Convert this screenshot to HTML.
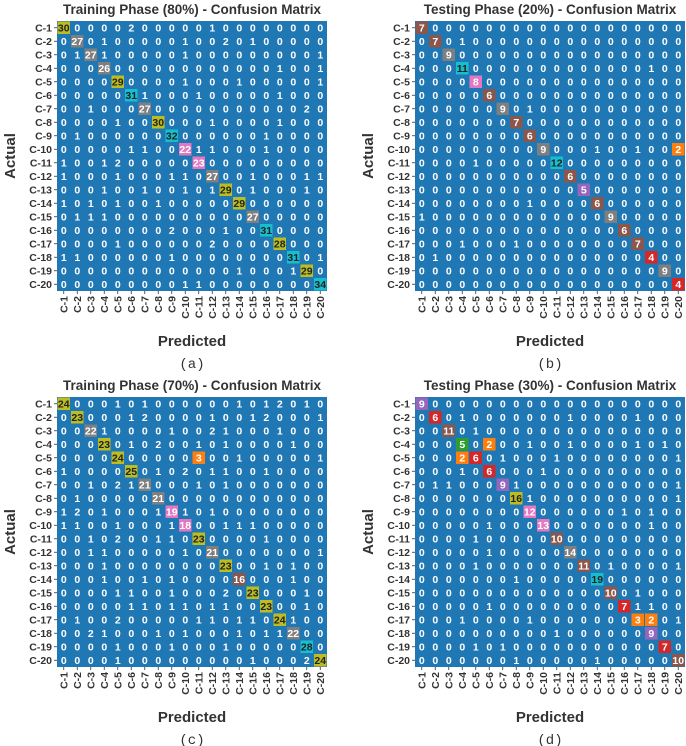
<!DOCTYPE html>
<html><head><meta charset="utf-8"><style>
html,body{margin:0;padding:0;background:#fff;}
svg{display:block;font-family:"Liberation Sans",Arial,sans-serif;}
</style></head><body>
<svg id="fig" width="686" height="746" viewBox="0 0 686 746" xmlns="http://www.w3.org/2000/svg"></svg>
<script>
const classLabels = ["C-1","C-2","C-3","C-4","C-5","C-6","C-7","C-8","C-9","C-10","C-11","C-12","C-13","C-14","C-15","C-16","C-17","C-18","C-19","C-20"];
const matrixA = [
[30,0,0,0,0,2,0,0,0,0,0,1,0,0,0,0,0,0,0,0],
[0,27,0,1,0,0,0,0,0,1,0,0,2,0,1,0,0,0,0,0],
[0,1,27,1,0,0,0,0,0,1,0,0,0,0,0,0,0,0,0,1],
[0,0,0,26,0,0,0,0,0,0,0,0,0,0,0,0,1,0,0,1],
[0,0,0,0,29,0,0,0,0,1,0,0,0,1,0,0,0,0,0,1],
[0,0,0,0,0,31,1,0,0,0,1,0,0,0,0,0,1,0,0,0],
[0,0,1,0,0,0,27,0,0,0,0,0,0,0,0,0,0,0,2,0],
[0,0,0,0,1,0,0,30,0,0,0,1,0,0,0,0,1,0,0,0],
[0,1,0,0,0,0,0,0,32,0,0,0,0,0,0,1,0,0,0,0],
[0,0,0,0,0,1,1,0,0,22,1,1,0,0,0,1,0,0,0,0],
[1,0,0,1,2,0,0,0,0,0,23,0,0,0,0,0,0,0,0,0],
[1,0,0,0,1,0,0,0,1,1,0,27,0,0,1,0,0,0,1,1],
[0,0,0,1,0,0,1,0,0,1,0,1,29,0,1,0,0,0,1,0],
[1,0,1,0,1,0,0,1,0,0,0,0,0,29,0,0,0,0,0,0],
[0,1,1,1,0,0,0,0,0,0,0,0,0,0,27,0,0,0,0,0],
[0,0,0,0,0,0,0,0,2,0,0,0,1,0,0,31,0,0,0,0],
[0,0,0,0,1,0,0,0,0,0,0,2,0,0,0,0,28,0,0,0],
[1,1,0,0,0,0,0,0,1,0,0,0,0,0,0,0,0,31,0,1],
[0,0,0,0,0,0,0,0,0,0,0,0,0,1,0,0,0,1,29,0],
[0,0,0,0,0,0,0,0,0,1,1,0,0,0,0,0,0,0,0,34]];
const matrixB = [
[7,0,0,0,0,0,0,0,0,0,0,0,0,0,0,0,0,0,0,0],
[0,7,0,1,0,0,0,0,0,0,0,0,0,0,0,0,0,0,0,0],
[0,0,9,0,0,0,0,0,0,0,0,0,0,0,0,0,0,0,0,0],
[0,0,0,11,0,0,0,0,0,0,0,0,0,0,0,0,0,1,0,0],
[0,0,0,0,8,0,0,0,0,0,0,0,0,0,0,0,0,0,0,0],
[0,0,0,0,0,6,0,0,0,0,0,0,0,0,0,0,0,0,0,0],
[0,0,0,0,0,0,9,0,1,0,0,0,0,0,0,0,0,0,0,0],
[0,0,0,0,0,0,0,7,0,0,0,0,0,0,0,0,0,0,0,0],
[0,0,0,0,0,0,0,0,6,0,0,0,0,0,0,0,0,0,0,0],
[0,0,0,0,0,0,0,0,0,9,0,0,0,1,0,0,1,0,0,2],
[0,0,0,0,1,0,0,0,0,0,12,0,0,0,0,0,0,0,0,0],
[0,0,0,0,0,0,0,0,0,0,0,6,0,0,0,0,0,0,0,0],
[0,0,0,0,0,0,0,0,0,0,0,0,5,0,0,0,0,0,0,0],
[0,0,0,0,0,0,0,0,1,0,0,0,0,6,0,0,0,0,0,0],
[1,0,0,0,0,0,0,0,0,0,0,0,0,0,9,0,0,0,0,0],
[0,0,0,0,0,0,0,0,0,0,0,0,0,0,0,6,0,0,0,0],
[0,0,0,1,0,0,0,1,0,0,0,0,0,0,0,0,7,0,0,0],
[0,1,0,0,0,0,0,0,0,0,0,0,0,0,0,0,0,4,0,0],
[0,0,0,0,0,0,0,0,0,0,0,0,0,0,0,0,0,0,9,0],
[0,0,0,0,0,0,0,0,0,0,0,0,0,0,0,0,0,0,0,4]];
const matrixC = [
[24,0,0,0,1,0,1,0,0,0,0,0,0,1,0,1,2,0,1,0],
[0,23,0,0,0,1,2,0,0,0,0,1,0,0,1,2,0,0,0,1],
[0,0,22,1,0,0,0,0,1,0,0,2,1,0,0,0,1,0,0,0],
[0,0,0,23,0,1,0,2,0,0,1,0,1,0,0,0,0,1,0,0],
[0,0,0,0,24,0,0,0,0,0,3,0,0,1,0,0,0,0,0,1],
[1,0,0,0,0,25,0,1,0,2,0,1,1,0,0,1,0,0,0,0],
[0,0,1,0,2,1,21,0,0,0,1,0,1,0,0,0,0,0,0,0],
[0,1,0,0,0,0,0,21,0,0,0,0,0,0,0,0,0,0,0,0],
[1,2,0,1,0,0,0,1,19,1,0,1,0,0,0,0,0,0,0,0],
[1,1,0,0,1,0,0,0,1,18,0,0,1,1,1,0,0,0,0,0],
[0,0,1,0,2,0,0,1,1,0,23,0,0,0,0,1,0,0,0,0],
[0,0,1,1,0,0,0,0,0,1,0,21,0,0,0,0,0,0,0,1],
[0,0,0,1,0,0,0,0,0,0,0,0,23,0,0,1,0,1,0,0],
[0,0,0,1,0,0,1,0,1,0,0,0,0,16,0,0,0,1,0,0],
[0,0,0,0,1,1,0,0,1,0,0,0,2,0,23,0,0,0,1,0],
[0,0,0,0,0,1,1,0,1,1,0,1,1,0,0,23,0,0,1,0],
[0,1,0,0,2,0,0,0,0,0,1,1,0,1,1,0,24,1,0,0],
[0,0,2,1,0,0,0,1,0,1,0,0,0,1,0,1,1,22,0,0],
[0,0,0,0,1,0,0,0,1,0,0,0,1,0,0,0,0,0,28,0],
[0,0,0,0,1,0,0,0,0,0,0,0,0,0,1,0,0,0,2,24]];
const matrixD = [
[9,0,0,0,0,0,0,0,0,0,0,0,0,0,0,0,0,0,0,0],
[0,6,0,1,0,0,0,0,0,0,0,1,0,0,0,0,1,0,0,0],
[0,0,11,0,1,0,0,0,0,0,0,0,0,0,0,0,0,0,0,0],
[0,0,0,5,0,2,0,0,1,0,0,1,0,0,0,0,1,0,1,0],
[0,0,0,2,6,0,1,0,0,0,1,0,0,0,0,0,0,0,0,1],
[0,0,0,1,0,6,0,0,0,1,0,0,0,0,0,0,0,0,0,0],
[0,1,1,0,0,0,9,1,0,0,0,0,0,0,0,0,0,0,0,1],
[0,0,0,0,0,0,0,16,1,0,0,0,0,0,0,0,0,0,0,1],
[0,0,0,0,0,0,0,0,12,0,0,0,0,0,0,1,0,1,0,0],
[0,0,0,0,0,1,0,0,0,13,0,0,0,0,0,0,0,1,0,0],
[0,0,0,0,1,0,0,0,0,0,10,0,0,0,0,0,0,0,0,0],
[0,0,0,0,0,1,0,0,0,0,0,14,0,0,0,0,0,0,0,0],
[0,0,0,0,1,0,0,0,0,0,0,0,11,0,1,0,0,0,0,1],
[0,0,0,0,0,0,0,1,0,0,0,0,0,19,0,0,0,0,0,0],
[0,0,0,0,0,0,0,0,0,0,0,0,0,0,10,0,1,0,0,0],
[0,0,0,0,0,1,0,0,0,0,0,0,0,0,0,7,1,1,0,0],
[0,0,0,1,0,0,0,0,1,0,0,0,0,0,0,0,3,2,0,1],
[0,0,0,0,0,0,0,0,0,0,1,0,0,0,0,0,0,9,0,0],
[0,0,0,0,1,0,1,0,0,0,0,0,0,0,0,0,0,0,7,0],
[0,0,0,0,0,0,0,1,0,0,0,0,0,1,0,0,0,0,0,10]];
const panelTitles = ["Training Phase (80%) - Confusion Matrix","Testing Phase (20%) - Confusion Matrix","Training Phase (70%) - Confusion Matrix","Testing Phase (30%) - Confusion Matrix"];
const panelLetters = ["(a)","(b)","(c)","(d)"];

const NS="http://www.w3.org/2000/svg";
const svg=document.getElementById('fig');
const tab10=["#1f77b4","#ff7f0e","#2ca02c","#d62728","#9467bd","#8c564b","#e377c2","#7f7f7f","#bcbd22","#17becf"];
function mk(tag,attrs,parent){const e=document.createElementNS(NS,tag);for(const k in attrs)e.setAttribute(k,attrs[k]);(parent||svg).appendChild(e);return e;}

function drawPanel(m,x0,y0,title,letter,pid){
  const g=mk('g',{});
  
  
  const W=270,n=m.length,cs=W/n;
  let mx=0;m.forEach(r=>r.forEach(v=>{if(v>mx)mx=v;}));
  const xs=c=>x0+c*cs, ys=r=>y0+r*cs;
  const t=mk('text',{x:x0+W/2,y:y0-7,'text-anchor':'middle','font-size':'13.5','font-weight':'bold',fill:'#333'},g);
  t.textContent=title;
  
  
  const bg=mk('rect',{x:x0,y:y0,width:W,height:W,fill:tab10[0]},g);
  
  
  for(let r=0;r<n;r++)for(let c=0;c<n;c++){
    const v=m[r][c];
    const idx=Math.min(9,Math.floor(v/mx*10));
    if(idx>0){
      const rc=mk('rect',{x:xs(c)+0.5,y:ys(r)+0.5,width:cs-1,height:cs-1,fill:tab10[idx]},g);
      
      
    }
    const dark=(idx===8||idx===9);
    const tx=mk('text',{x:xs(c)+cs/2,y:ys(r)+cs/2+3.6,'text-anchor':'middle','font-size':'10.5','font-weight':'bold',fill:dark?'#222':'#fff'},g);
    tx.textContent=v;
    
    
  }
  for(let i=0;i<n;i++){
    mk('line',{x1:x0-3,x2:x0,y1:ys(i)+cs/2,y2:ys(i)+cs/2,stroke:'#333','stroke-width':0.8},g);
    const rl=mk('text',{x:x0-5,y:ys(i)+cs/2+3.6,'text-anchor':'end','font-size':'10.5','font-weight':'bold',fill:'#333'},g);
    rl.textContent=classLabels[i];
    
    
    mk('line',{x1:xs(i)+cs/2,x2:xs(i)+cs/2,y1:y0+W,y2:y0+W+3,stroke:'#333','stroke-width':0.8},g);
    const cx=xs(i)+cs/2+3.6, cy=y0+W+5;
    const cl=mk('text',{x:cx,y:cy,'text-anchor':'end','font-size':'10.5','font-weight':'bold',fill:'#333',transform:'rotate(-90 '+cx+' '+cy+')'},g);
    cl.textContent=classLabels[i];
    
    
  }
  const xl=mk('text',{x:x0+W/2,y:y0+W+55,'text-anchor':'middle','font-size':'15','font-weight':'bold',fill:'#333'},g);
  xl.textContent='Predicted';
  
  
  const ax=x0-42, ay=y0+W/2;
  const yl=mk('text',{x:ax,y:ay,'text-anchor':'middle','font-size':'15','font-weight':'bold',fill:'#333',transform:'rotate(-90 '+ax+' '+ay+')'},g);
  yl.textContent='Actual';
  
  
  const lt=mk('text',{x:x0+W/2,y:y0+W+77,'text-anchor':'middle','font-size':'14',fill:'#333','font-family':'"Liberation Mono",monospace'},g);
  lt.textContent=letter;
  
  
}
drawPanel(matrixA,57,21,panelTitles[0],panelLetters[0],'a');
drawPanel(matrixB,415,21,panelTitles[1],panelLetters[1],'b');
drawPanel(matrixC,57,397,panelTitles[2],panelLetters[2],'c');
drawPanel(matrixD,415,397,panelTitles[3],panelLetters[3],'d');
</script>
</body></html>
